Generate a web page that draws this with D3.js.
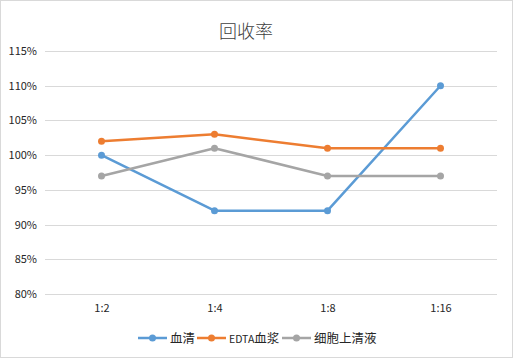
<!DOCTYPE html>
<html>
<head>
<meta charset="utf-8">
<script src="https://cdn.jsdelivr.net/npm/d3@7"></script>
<style>
  body { margin: 0; background: #fff; }
  text { font-family: "Noto Sans CJK SC", "Liberation Sans", sans-serif; }
</style>
</head>
<body>
<div id="chart"></div>
<script>
// 回收率 line chart
var categories = ["1:2", "1:4", "1:8", "1:16"];
var seriesNames = ["血清", "EDTA血浆", "细胞上清液"];
var serum = [100, 92, 92, 110];
var edta = [102, 103, 101, 101];
var supernatant = [97, 101, 97, 97];
var yTicks = [80, 85, 90, 95, 100, 105, 110, 115];

var colors = ["#5B9BD5", "#ED7D31", "#A5A5A5"];
var allSeries = [serum, edta, supernatant];

var svgWidth = 513;
var svgHeight = 358;
var margin = { top: 51, right: 16, bottom: 64, left: 45 };
var width = svgWidth - margin.left - margin.right;
var height = svgHeight - margin.top - margin.bottom;

var svg = d3.select("#chart")
    .append("svg")
    .attr("width", svgWidth)
    .attr("height", svgHeight);

// outer border
svg.append("rect")
    .attr("x", 0.5).attr("y", 0.5)
    .attr("width", svgWidth - 1).attr("height", svgHeight - 1)
    .attr("fill", "#fff")
    .attr("stroke", "#d9d9d9");

svg.append("text")
    .attr("x", 246)
    .attr("y", 38)
    .attr("text-anchor", "middle")
    .attr("font-size", 18)
    .attr("font-weight", 300)
    .attr("fill", "#404040")
    .text("回收率");

var g = svg.append("g")
    .attr("transform", `translate(${margin.left}, ${margin.top})`);

var x = d3.scalePoint()
    .domain(categories)
    .range([0, width])
    .padding(0.5);

var y = d3.scaleLinear()
    .domain([80, 115])
    .range([height, 0]);

// gridlines
g.selectAll(".grid")
    .data(yTicks)
    .enter()
    .append("line")
    .attr("x1", 0)
    .attr("x2", width)
    .attr("y1", d => Math.round(y(d)) + 0.5)
    .attr("y2", d => Math.round(y(d)) + 0.5)
    .attr("stroke", "#d9d9d9")
    .attr("stroke-width", 1);

var leftAxis = d3.axisLeft(y)
    .tickValues(yTicks)
    .tickSize(0)
    .tickPadding(8)
    .tickFormat(d => d + "%");

var yAxis = g.append("g").call(leftAxis);
yAxis.select(".domain").remove();
yAxis.selectAll("text")
    .attr("font-size", 11)
    .attr("fill", "#262626");

var bottomAxis = d3.axisBottom(x)
    .tickSize(0)
    .tickPadding(10);

var xAxis = g.append("g")
    .attr("transform", `translate(0, ${height})`)
    .call(bottomAxis);
xAxis.select(".domain").remove();
xAxis.selectAll("text")
    .attr("font-size", 11)
    .attr("fill", "#262626");

var line = d3.line()
    .x((d, i) => x(categories[i]))
    .y(d => y(d));

allSeries.forEach(function(values, s) {
    g.append("path")
        .datum(values)
        .attr("d", line)
        .attr("fill", "none")
        .attr("stroke", colors[s])
        .attr("stroke-width", 2.5)
        .attr("stroke-linejoin", "round");

    g.selectAll(".pt" + s)
        .data(values)
        .enter()
        .append("circle")
        .attr("cx", (d, i) => x(categories[i]))
        .attr("cy", d => y(d))
        .attr("r", 3.5)
        .attr("fill", colors[s]);
});

// legend
var legendX = [138, 197, 282];
var legend = svg.append("g")
    .attr("transform", "translate(0, 338)");

seriesNames.forEach(function(name, s) {
    var lg = legend.append("g")
        .attr("transform", `translate(${legendX[s]}, 0)`);
    lg.append("line")
        .attr("x1", 0).attr("x2", 29)
        .attr("y1", 0).attr("y2", 0)
        .attr("stroke", colors[s])
        .attr("stroke-width", 2.5);
    lg.append("circle")
        .attr("cx", 14.5).attr("cy", 0)
        .attr("r", 3.5)
        .attr("fill", colors[s]);
    var t = lg.append("text")
        .attr("x", 32)
        .attr("y", 5)
        .attr("font-size", 12.5)
        .attr("fill", "#262626");
    // latin part of the label a bit smaller, like the original
    var m = name.match(/^([A-Za-z]*)(.*)$/);
    if (m[1]) t.append("tspan").attr("font-size", 10.5).text(m[1]);
    t.append("tspan").text(m[2]);
});
</script>
</body>
</html>
